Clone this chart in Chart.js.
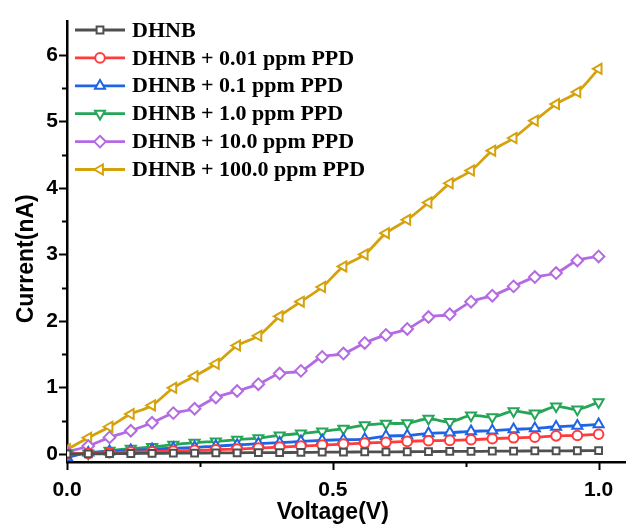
<!DOCTYPE html>
<html>
<head>
<meta charset="utf-8">
<script src="https://cdn.jsdelivr.net/npm/chart.js@4.4.1/dist/chart.umd.min.js"></script>
<style>
  html, body { margin: 0; padding: 0; background: #ffffff; }
  #wrap { width: 633px; height: 525px; }
</style>
</head>
<body>
<div id="wrap"><canvas id="c" width="633" height="525"></canvas></div>
<script>
// Bias voltage sweep (V)
const voltage = [0.00, 0.04, 0.08, 0.12, 0.16, 0.20, 0.24, 0.28, 0.32, 0.36, 0.40, 0.44, 0.48,
                 0.52, 0.56, 0.60, 0.64, 0.68, 0.72, 0.76, 0.80, 0.84, 0.88, 0.92, 0.96, 1.00];

// Measured current (nA) for each sample
const currentDhnb = [0.000, 0.003, 0.005, 0.008, 0.010, 0.012, 0.014, 0.016, 0.018, 0.021, 0.022, 0.024, 0.027,
                     0.029, 0.031, 0.033, 0.034, 0.037, 0.039, 0.040, 0.042, 0.044, 0.046, 0.047, 0.049, 0.051];
const currentPpd001 = [0.00, 0.01, 0.02, 0.03, 0.035, 0.045, 0.055, 0.065, 0.075, 0.09, 0.105, 0.12, 0.135,
                       0.15, 0.165, 0.176, 0.19, 0.20, 0.205, 0.215, 0.23, 0.244, 0.253, 0.273, 0.278, 0.297];
const currentPpd01 = [-0.05, 0.02, 0.04, 0.054, 0.07, 0.088, 0.10, 0.12, 0.136, 0.156, 0.17, 0.19, 0.205,
                      0.215, 0.224, 0.27, 0.278, 0.31, 0.322, 0.341, 0.351, 0.37, 0.385, 0.41, 0.425, 0.445];
const currentPpd1 = [0.00, 0.01, 0.05, 0.08, 0.107, 0.14, 0.17, 0.19, 0.215, 0.24, 0.28, 0.31, 0.34,
                     0.38, 0.435, 0.458, 0.464, 0.53, 0.483, 0.58, 0.556, 0.644, 0.61, 0.717, 0.67, 0.78];
const currentPpd10 = [0.03, 0.12, 0.25, 0.35, 0.47, 0.615, 0.68, 0.85, 0.947, 1.05, 1.21, 1.25, 1.46,
                      1.51, 1.67, 1.79, 1.88, 2.06, 2.10, 2.29, 2.38, 2.52, 2.66, 2.72, 2.91, 2.97];
const currentPpd100 = [0.07, 0.244, 0.41, 0.60, 0.73, 0.995, 1.17, 1.357, 1.63, 1.776, 2.07, 2.29, 2.51,
                       2.82, 3.00, 3.32, 3.52, 3.78, 4.07, 4.26, 4.56, 4.75, 5.01, 5.26, 5.44, 5.79];

const seriesNames = ['DHNB', 'DHNB + 0.01 ppm PPD', 'DHNB + 0.1 ppm PPD',
                     'DHNB + 1.0 ppm PPD', 'DHNB + 10.0 ppm PPD', 'DHNB + 100.0 ppm PPD'];

// Axis ticks: every tick gets a mark, only labelled ones are long
const xTickValues = [0, 0.25, 0.5, 0.75, 1.0];
const xTickLabels = ['0.0', '', '0.5', '', '1.0'];
const yTickValues = [0, 0.5, 1, 1.5, 2, 2.5, 3, 3.5, 4, 4.5, 5, 5.5, 6];
const yTickLabels = ['0', '', '1', '', '2', '', '3', '', '4', '', '5', '', '6'];

const xTitle = 'Voltage(V)';
const yTitle = 'Current(nA)';

const seriesValues = [currentDhnb, currentPpd001, currentPpd01, currentPpd1, currentPpd10, currentPpd100];
const seriesColors = ['#4f4f4f', '#ff3b3b', '#1f64e4', '#25a558', '#b46ae3', '#d5a20c'];
const seriesMarkers = [
  { style: 'rect', rotation: 0, radius: 4.8 },
  { style: 'circle', rotation: 0, radius: 4.8 },
  { style: 'triangle', rotation: 0, radius: 5.8 },
  { style: 'triangle', rotation: 180, radius: 5.8 },
  { style: 'rectRot', rotation: 0, radius: 5.8 },
  { style: 'triangle', rotation: -90, radius: 5.8 }
];

const datasets = seriesNames.map((name, i) => ({
  label: name,
  data: voltage.map((v, k) => ({ x: v, y: seriesValues[i][k] })),
  borderColor: seriesColors[i],
  backgroundColor: '#ffffff',
  borderWidth: 2.8,
  tension: 0.3,
  pointStyle: seriesMarkers[i].style,
  rotation: seriesMarkers[i].rotation,
  pointRadius: seriesMarkers[i].radius,
  pointBorderWidth: 2,
  pointBackgroundColor: '#ffffff',
  pointBorderColor: seriesColors[i]
}));

// Outward tick marks on both axes, plus the axis titles
const axisDecor = {
  id: 'axisDecor',
  afterDraw(chart) {
    const { ctx, chartArea, scales } = chart;
    ctx.save();
    ctx.strokeStyle = '#000';
    ctx.lineWidth = 2;
    scales.x.ticks.forEach((t, i) => {
      const px = Math.round(scales.x.getPixelForValue(t.value)) + 0.5;
      const len = xTickLabels[i] ? 8 : 5;
      ctx.beginPath();
      ctx.moveTo(px, chartArea.bottom);
      ctx.lineTo(px, chartArea.bottom + len);
      ctx.stroke();
    });
    scales.y.ticks.forEach((t, i) => {
      const py = Math.round(scales.y.getPixelForValue(t.value)) + 0.5;
      const len = yTickLabels[i] ? 8 : 5;
      ctx.beginPath();
      ctx.moveTo(chartArea.left, py);
      ctx.lineTo(chartArea.left - len, py);
      ctx.stroke();
    });

    ctx.fillStyle = '#000';
    ctx.font = 'bold 23px "Liberation Sans", Arial, sans-serif';
    ctx.textAlign = 'center';
    ctx.textBaseline = 'middle';
    ctx.fillText(xTitle, scales.x.getPixelForValue(0.5), chart.height - 12);
    ctx.translate(27, (chartArea.top + chartArea.bottom) / 2 + 17);
    ctx.rotate(-Math.PI / 2);
    ctx.fillText(yTitle, 0, 0);
    ctx.restore();
  }
};

// Legend with a line sample and marker for each series
const lineLegend = {
  id: 'lineLegend',
  afterDraw(chart) {
    const { ctx } = chart;
    const x0 = 75, x1 = 125, textX = 132, top = 30, step = 27.9;
    ctx.save();
    chart.data.datasets.forEach((ds, i) => {
      const y = top + i * step;
      ctx.strokeStyle = ds.borderColor;
      ctx.lineWidth = 2.8;
      ctx.beginPath();
      ctx.moveTo(x0, y);
      ctx.lineTo(x1, y);
      ctx.stroke();
      ctx.fillStyle = '#ffffff';
      ctx.lineWidth = 2;
      Chart.helpers.drawPoint(ctx, {
        pointStyle: ds.pointStyle,
        rotation: ds.rotation,
        radius: ds.pointRadius,
        borderWidth: 2
      }, (x0 + x1) / 2, y);
      ctx.fillStyle = '#000';
      ctx.font = 'bold 22px "Liberation Serif", "Times New Roman", serif';
      ctx.textBaseline = 'middle';
      ctx.textAlign = 'left';
      ctx.fillText(ds.label, textX, y + 1);
    });
    ctx.restore();
  }
};

Chart.defaults.font.family = '"Liberation Sans", Arial, sans-serif';
Chart.defaults.font.weight = 'bold';
Chart.defaults.color = '#000';

new Chart(document.getElementById('c'), {
  type: 'line',
  data: { datasets },
  options: {
    responsive: false,
    animation: false,
    devicePixelRatio: 1,
    layout: { padding: { top: 10, right: 0, left: 0, bottom: 0 } },
    plugins: { legend: { display: false }, tooltip: { enabled: false } },
    scales: {
      x: {
        type: 'linear',
        min: 0,
        max: 1.05,
        afterBuildTicks: (s) => { s.ticks = xTickValues.map(v => ({ value: v })); },
        afterFit: (s) => { s.height = 63; },
        ticks: {
          padding: 16,
          maxRotation: 0,
          autoSkip: false,
          font: { size: 21, weight: 'bold' },
          callback: (v, i) => xTickLabels[i]
        },
        grid: { display: false, drawTicks: false },
        border: { display: true, color: '#000', width: 2.5 }
      },
      y: {
        type: 'linear',
        min: -0.12,
        max: 6.5,
        afterBuildTicks: (s) => { s.ticks = yTickValues.map(v => ({ value: v })); },
        afterFit: (s) => { s.width = 67; },
        ticks: {
          padding: 9,
          autoSkip: false,
          font: { size: 21, weight: 'bold' },
          callback: (v, i) => yTickLabels[i]
        },
        grid: { display: false, drawTicks: false },
        border: { display: true, color: '#000', width: 2.5 }
      }
    }
  },
  plugins: [axisDecor, lineLegend]
});
</script>
</body>
</html>
